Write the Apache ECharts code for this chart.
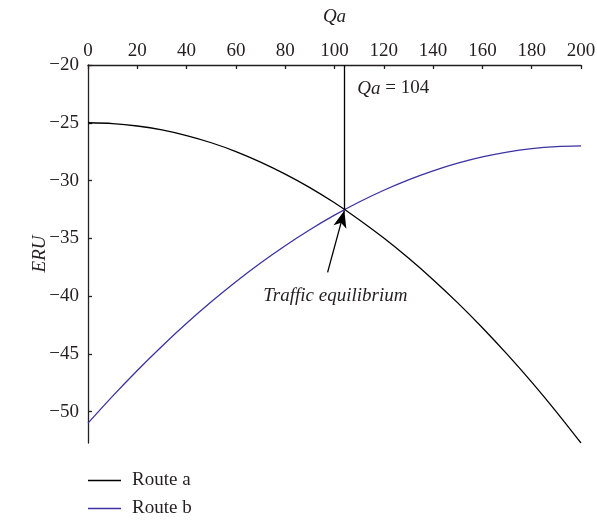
<!DOCTYPE html>
<html>
<head>
<meta charset="utf-8">
<script src="https://cdn.jsdelivr.net/npm/echarts@6/dist/echarts.min.js"></script>
<style>
html,body{margin:0;padding:0;background:#fff;}
#chart{width:597px;height:520px;}
</style>
</head>
<body>
<div id="chart"></div>
<script>
// Qa values (x axis)
var qa = [0,10,20,30,40,50,60,70,80,90,100,110,120,130,140,150,160,170,180,190,200];
// ERU
var routeA = [-25.00,-25.07,-25.28,-25.62,-26.11,-26.73,-27.49,-28.40,-29.44,-30.61,-31.93,-33.39,-34.98,-36.71,-38.58,-40.59,-42.74,-45.03,-47.45,-50.02,-52.72];
var routeB = [-51.00,-48.66,-46.44,-44.34,-42.36,-40.50,-38.76,-37.14,-35.64,-34.26,-33.00,-31.86,-30.84,-29.94,-29.16,-28.50,-27.96,-27.54,-27.24,-27.06,-27.00];
var xTicks = [0,20,40,60,80,100,120,140,160,180,200];
var yTicks = [-50,-45,-40,-35,-30,-25,-20];
var equilibriumQa = 104;
var equilibriumEru = -32.5;
var arrowTail = [97.2, -37.95];
var labelQa = 'Qa';
var labelEru = 'ERU';
var labelTraffic = 'Traffic equilibrium';

var FONT = 'Liberation Serif';
var FS = 19;

function pairs(xs, ys){ return xs.map(function(x,i){ return [x, ys[i]]; }); }

var chart = echarts.init(document.getElementById('chart'), null, {renderer:'canvas'});
var option = {
  animation:false,
  backgroundColor:'#fff',
  textStyle:{fontFamily:FONT},
  grid:{left:88, right:16, top:65, bottom:77, containLabel:false, outerBoundsMode:'none'},
  xAxis:{
    type:'value', position:'top', min:0, max:200, interval:20,
    name:labelQa, nameLocation:'middle', nameGap:39, nameMoveOverlap:false,
    nameTextStyle:{fontFamily:FONT, fontSize:FS, fontStyle:'italic', color:'#231f20'},
    axisLine:{show:true, onZero:false, lineStyle:{color:'#231f20', width:1.3}},
    axisTick:{show:true, inside:true, length:4, lineStyle:{color:'#231f20', width:1.3}},
    axisLabel:{fontFamily:FONT, fontSize:FS, color:'#231f20', margin:4},
    splitLine:{show:false}
  },
  yAxis:{
    type:'value', min:-52.72, max:-20,
    name:labelEru, nameLocation:'middle', nameGap:39, nameRotate:90, nameMoveOverlap:false,
    nameTextStyle:{fontFamily:FONT, fontSize:FS, fontStyle:'italic', color:'#231f20'},
    axisLine:{show:true, onZero:false, lineStyle:{color:'#231f20', width:1.3}},
    axisTick:{show:true, inside:true, length:4, customValues:yTicks, lineStyle:{color:'#231f20', width:1.3}},
    axisLabel:{fontFamily:FONT, fontSize:FS, color:'#231f20', margin:9, customValues:yTicks,
      formatter:function(v){ return String(v).replace('-', '\u2212'); }},
    splitLine:{show:false}
  },
  legend:{
    orient:'vertical', left:88, top:471, padding:0, height:60, itemWidth:33, itemHeight:1.5, itemGap:9,
    icon:'rect',
    textStyle:{fontFamily:FONT, fontSize:FS, color:'#231f20', padding:[0,0,0,6]},
    data:['Route a','Route b']
  },
  series:[
    {
      name:'Route a', type:'line', data:pairs(qa, routeA), smooth:0.3,
      symbol:'none', showSymbol:false,
      lineStyle:{color:'#000', width:1.3}, itemStyle:{color:'#000'}, z:3
    },
    {
      name:'Route b', type:'line', data:pairs(qa, routeB), smooth:0.3,
      symbol:'none', showSymbol:false,
      lineStyle:{color:'#3b33a3', width:1.3}, itemStyle:{color:'#3b33a3'}, z:2
    },
    {
      name:'annot', type:'line', data:[], silent:true,
      markLine:{
        silent:true, animation:false,
        label:{show:false},
        lineStyle:{color:'#000', type:'solid', width:1.3},
        data:[
          [{coord:[equilibriumQa,-20], symbol:'none'}, {coord:[equilibriumQa,equilibriumEru], symbol:'none'}],
          [{coord:arrowTail, symbol:'none'}, {coord:[equilibriumQa,equilibriumEru-0.1], symbol:'arrow', symbolSize:[10,17]}]
        ]
      }
    }
  ]
};
chart.setOption(option);

var pQa = chart.convertToPixel({gridIndex:0}, [equilibriumQa, -20]);
var pTr = chart.convertToPixel({gridIndex:0}, [equilibriumQa, -40]);
chart.setOption({
  graphic:[
    {
      type:'text', left:pQa[0]+13, top:pQa[1]+14,
      style:{
        text:'{i|Qa} = 104',
        rich:{i:{fontStyle:'italic', fontFamily:FONT, fontSize:FS, fill:'#231f20'}},
        font:FS+'px "'+FONT+'"', fill:'#231f20'
      }
    },
    {
      type:'text', x:pTr[0]-9, y:pTr[1],
      style:{
        text:labelTraffic, align:'center', verticalAlign:'middle',
        font:'italic '+FS+'px "'+FONT+'"', fill:'#231f20'
      }
    }
  ]
});
</script>
</body>
</html>
